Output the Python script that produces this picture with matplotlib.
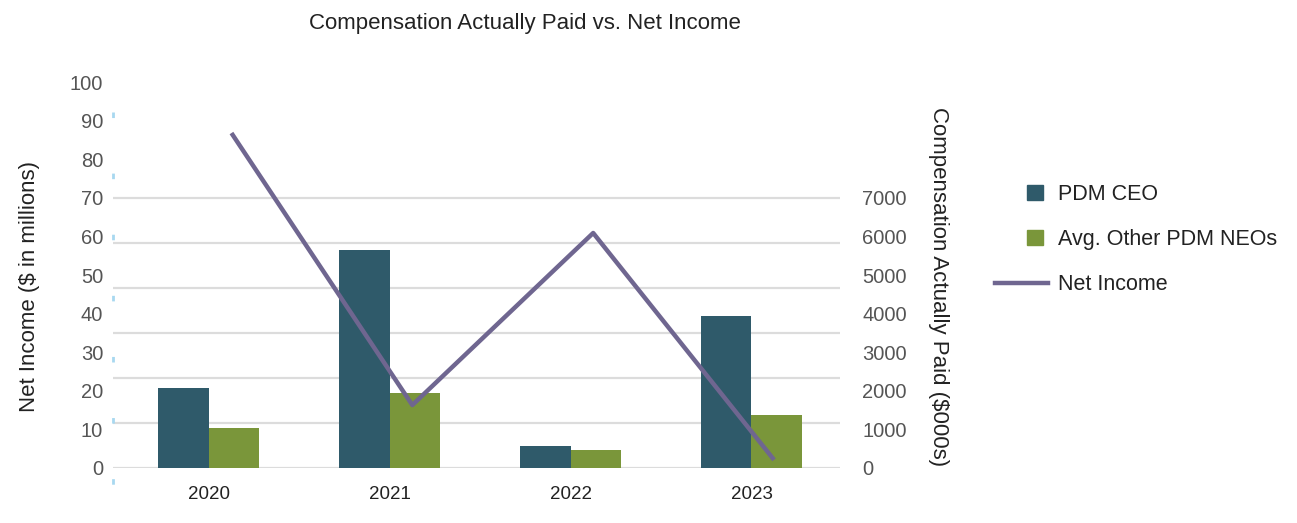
import numpy as np
import matplotlib
matplotlib.use("Agg")
import matplotlib.pyplot as plt
import matplotlib.patches as mpatches
from matplotlib.lines import Line2D
from matplotlib.legend_handler import HandlerPatch

plt.rcParams['font.family'] = ['Liberation Sans', 'DejaVu Sans']

years = ['2020', '2021', '2022', '2023']
ceo_cap = [2070, 5650, 570, 3940]          # $000s
neo_cap = [1040, 1940, 470, 1370]          # $000s
net_income = [86.8, 16.3, 60.9, 2.1]       # $ millions

c_ceo = '#2f5a6a'
c_neo = '#7a963a'
c_line = '#6f6690'
c_grid = '#dcdcdc'
c_tick = '#555555'

fig = plt.figure(figsize=(12.97, 5.23), dpi=100)
ax = fig.add_axes([0.0871, 0.1052, 0.5606, 0.7378])
ax2 = ax.twinx()

x = np.arange(len(years))
w = 0.28

# bars -> right axis (compensation)
ax2.bar(x - w / 2, ceo_cap, w, color=c_ceo, zorder=3)
ax2.bar(x + w / 2, neo_cap, w, color=c_neo, zorder=3)
ax2.set_ylim(0, 10000)
ax2.set_yticks(np.arange(0, 8000, 1000))
ax2.yaxis.remove_overlapping_locs = False
ax2.set_yticks(np.linspace(0, 7000, 7), minor=True)
ax2.grid(which='minor', axis='y', color=c_grid, lw=1.6, zorder=0)
ax2.tick_params(axis='y', which='both', length=0, pad=16, labelsize=14.5, labelcolor=c_tick)
ax2.set_ylabel('Compensation Actually Paid ($000s)', rotation=270, fontsize=16,
               color='#222222')
ax2.yaxis.set_label_coords(1.15, 0.47)

# line -> left axis (net income), drawn above bars
ax.set_zorder(ax2.get_zorder() + 1)
ax.patch.set_visible(False)
ax.plot(x + 0.125, net_income, color=c_line, lw=3.2, solid_capstyle='butt')
ax.set_ylim(0, 100)
ax.set_yticks(np.arange(0, 110, 10))
ax.set_xlim(-0.53, 3.49)
ax.set_xticks(x)
ax.set_xticklabels(years)
ax.tick_params(axis='y', length=0, pad=7, labelsize=14.5, labelcolor=c_tick)
ax.tick_params(axis='x', length=0, pad=13, labelsize=13.5, labelcolor='#222222')
ax.set_ylabel('Net Income ($ in millions)', fontsize=16, color='#222222')
ax.yaxis.set_label_coords(-0.1, 0.47)

for a in (ax, ax2):
    for s in a.spines.values():
        s.set_visible(False)

# faint dashed left rule
fig.add_artist(Line2D([113 / 1297, 113 / 1297], [1 - 112 / 523, 1 - 522 / 523],
                      transform=fig.transFigure, color='#a8d8f0', lw=2,
                      linestyle=(0, (2, 20))))

fig.suptitle('Compensation Actually Paid vs. Net Income', x=0.405, y=0.975,
             fontsize=16, color='#222222')


def square(legend, orig_handle, xdescent, ydescent, width, height, fontsize):
    s = 0.72 * fontsize
    return mpatches.Rectangle((-xdescent + 0.6 * width, -ydescent + (height - s) / 2), s, s)


handles = [mpatches.Patch(color=c_ceo, label='PDM CEO'),
           mpatches.Patch(color=c_neo, label='Avg. Other PDM NEOs'),
           Line2D([], [], color=c_line, lw=3.2, label='Net Income')]
fig.legend(handles=handles, loc='upper left', bbox_to_anchor=(0.7526, 0.685),
           frameon=False, fontsize=15.5, labelspacing=1.12, handlelength=2.45,
           handletextpad=0.45, labelcolor='#222222',
           handler_map={mpatches.Patch: HandlerPatch(patch_func=square)})

fig.savefig('out.png', dpi=100, facecolor='white')
